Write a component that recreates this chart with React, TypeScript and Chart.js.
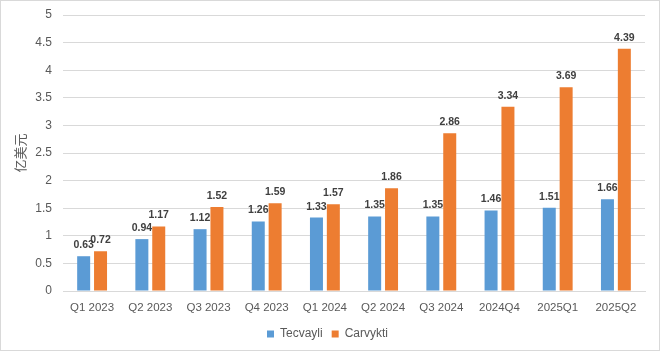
import React, { useEffect, useRef } from "react";
import { Chart, registerables } from "chart.js";

Chart.register(...registerables);

const categories = ["Q1 2023", "Q2 2023", "Q3 2023", "Q4 2023", "Q1 2024", "Q2 2024", "Q3 2024", "2024Q4", "2025Q1", "2025Q2"];
const tecvayli = [0.63, 0.94, 1.12, 1.26, 1.33, 1.35, 1.35, 1.46, 1.51, 1.66];
const carvykti = [0.72, 1.17, 1.52, 1.59, 1.57, 1.86, 2.86, 3.34, 3.69, 4.39];
const yTitle = "亿美元";

const FONT = "'Liberation Sans Narrow', 'Arial Narrow', 'Liberation Sans', Arial, sans-serif";

const labelPlugin = {
  id: "barLabels",
  afterDatasetsDraw(chart: any) {
    const ctx = chart.ctx;
    ctx.save();
    ctx.font = `bold 10.5px ${FONT}`;
    ctx.fillStyle = "#404040";
    ctx.textAlign = "center";
    ctx.textBaseline = "alphabetic";
    chart.data.datasets.forEach((ds: any, i: number) => {
      const meta = chart.getDatasetMeta(i);
      meta.data.forEach((el: any, j: number) => {
        ctx.fillText(Number(ds.data[j]).toFixed(2), el.x, el.y - 8);
      });
    });
    ctx.restore();
  },
};

export default function App() {
  const ref = useRef<HTMLCanvasElement>(null);
  useEffect(() => {
    document.body.style.margin = "0";
    const chart = new Chart(ref.current!, {
      type: "bar",
      data: {
        labels: categories,
        datasets: [
          { label: "Tecvayli", data: tecvayli, backgroundColor: "#5b9bd5", categoryPercentage: 0.58, barPercentage: 0.77 },
          { label: "Carvykti", data: carvykti, backgroundColor: "#ed7d31", categoryPercentage: 0.58, barPercentage: 0.77 },
        ],
      },
      options: {
        animation: false,
        responsive: false,
        maintainAspectRatio: false,
        layout: { padding: { left: 9, right: 14, top: 14, bottom: 0 } },
        plugins: {
          legend: {
            position: "bottom",
            labels: {
              boxWidth: 7,
              boxHeight: 7,
              color: "#595959",
              font: { size: 12, family: FONT },
              padding: 9,
            },
          },
          tooltip: { enabled: false },
        },
        scales: {
          x: {
            grid: { display: false, drawTicks: false },
            border: { color: "#d9d9d9" },
            ticks: { color: "#595959", font: { size: 11.5, family: FONT }, padding: 10 },
            afterFit(scale: any) {
              scale.height = 28;
              scale.paddingLeft = 0;
              scale.paddingRight = 0;
            },
          },
          y: {
            min: 0,
            max: 5,
            ticks: {
              stepSize: 0.5,
              color: "#595959",
              font: { size: 12, family: FONT },
              padding: 11,
              callback: (v: any) => String(Number(v)),
            },
            grid: { color: "#d9d9d9", drawTicks: false },
            border: { display: false },
            title: { display: true, text: yTitle, color: "#595959", font: { size: 13, family: "'Noto Sans CJK SC', sans-serif" }, padding: 2 },
            afterFit(scale: any) {
              scale.width = 53;
              scale.paddingTop = 0;
              scale.paddingBottom = 0;
            },
          },
        },
      },
      plugins: [labelPlugin],
    } as any);
    return () => chart.destroy();
  }, []);
  return (
    <div style={{ position: "fixed", left: 0, top: 0, width: 660, height: 351, boxSizing: "border-box", border: "1px solid #d9d9d9", background: "#fff" }}>
      <canvas ref={ref} width={658} height={349} style={{ display: "block" }} />
    </div>
  );
}
